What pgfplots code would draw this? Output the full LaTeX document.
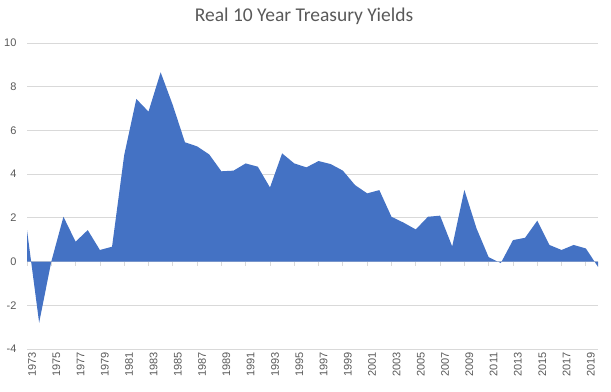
\documentclass[border=0pt]{standalone}
\usepackage{pgfplots}
\pgfplotsset{compat=1.18}
\usepackage{fontspec}
\setmainfont{Carlito}
\newfontfamily\arialfont{Liberation Sans}
\definecolor{excelblue}{HTML}{4472C4}
\definecolor{gridgray}{HTML}{D9D9D9}
\definecolor{textgray}{HTML}{595959}
\begin{document}
\begin{tikzpicture}
\useasboundingbox (0,0) rectangle (611bp,392bp);
\node[text=textgray, font=\fontsize{19.5bp}{23bp}\selectfont] at (304bp,375.5bp) {Real 10 Year Treasury Yields};
\begin{axis}[
  at={(27bp,43bp)}, anchor=south west,
  scale only axis, width=571bp, height=306bp,
  xmin=0, xmax=47, ymin=-4, ymax=10,
  axis line style={draw=none},
  ytick={-4,-2,...,10},
  xtick={0,2,...,46},
  xticklabels={1973,1975,1977,1979,1981,1983,1985,1987,1989,1991,1993,1995,1997,1999,2001,2003,2005,2007,2009,2011,2013,2015,2017,2019},
  major tick length=0pt,
  ymajorgrids, grid style={gridgray, line width=0.75bp},
  /pgf/number format/assume math mode=true,
  tick label style={text=textgray, font=\arialfont\fontsize{11bp}{13bp}\selectfont},
  yticklabel style={anchor=east, xshift=-7bp},
  xticklabel style={rotate=90, anchor=east, yshift=-5bp},
  clip=false,
]
\draw[gridgray, line width=0.75bp] (axis cs:0,0) -- (axis cs:47,0);
\pgfplotsinvokeforeach{0,2,...,46}{
  \draw[gridgray, line width=0.75bp] (axis cs:#1,0) -- (axis cs:#1,-0.18);
}
\addplot[fill=excelblue, draw=none] table {
x y
0 1.44
1 -2.80
2 0.00
3 2.05
4 0.91
5 1.44
6 0.53
7 0.68
8 4.87
9 7.44
10 6.86
11 8.66
12 7.16
13 5.46
14 5.27
15 4.90
16 4.13
17 4.16
18 4.49
19 4.34
20 3.39
21 4.95
22 4.49
23 4.31
24 4.60
25 4.46
26 4.16
27 3.50
28 3.12
29 3.27
30 2.05
31 1.78
32 1.47
33 2.05
34 2.10
35 0.69
36 3.28
37 1.52
38 0.20
39 -0.07
40 0.98
41 1.09
42 1.87
43 0.76
44 0.53
45 0.76
46 0.60
47 -0.24
} \closedcycle;
\end{axis}
\end{tikzpicture}
\end{document}
